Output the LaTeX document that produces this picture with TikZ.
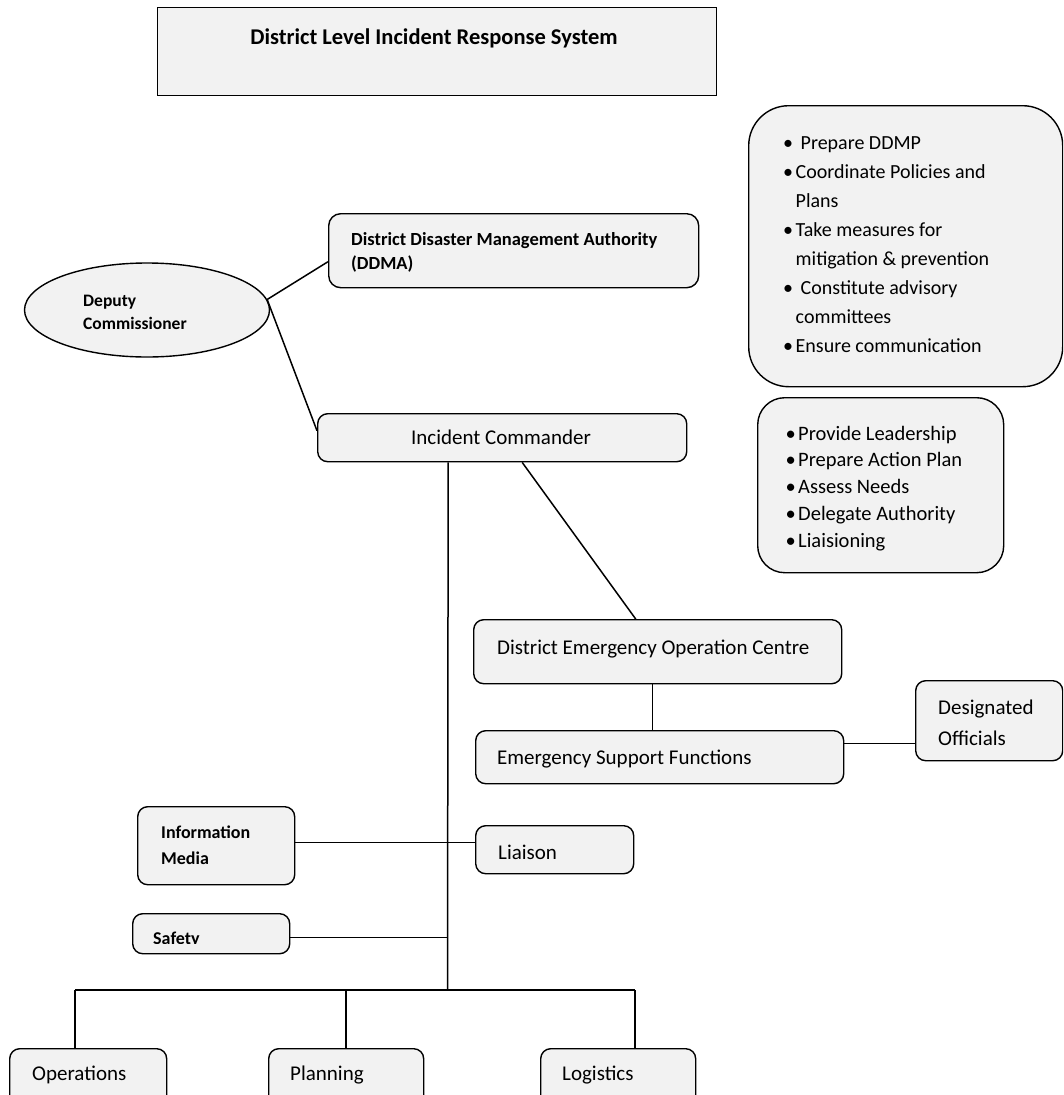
\documentclass[tikz,border=0pt]{standalone}
\usepackage{fontspec}
\setmainfont{Carlito}
\usetikzlibrary{calc,shapes.geometric}
\definecolor{boxgray}{HTML}{F2F2F2}
% bullet and hanging indent for the duty lists
\newcommand\itm{\makebox[15pt][c]{•}}
\newcommand\cont{\hspace*{15pt}}

\begin{document}
\begin{tikzpicture}[x=1pt,y=-1pt,
  card/.style={draw, fill=boxgray, line width=1.4pt, rounded corners=10pt,
    inner sep=0pt, anchor=north west},
  wire/.style={line width=1.5pt},
  lbl/.style={inner sep=0pt, anchor=base west, align=left,
    font=\fontsize{21}{31}\selectfont},
  blbl/.style={inner sep=0pt, anchor=base west, align=left,
    font=\bfseries\fontsize{17.5}{23}\selectfont},
  duty/.style={inner sep=0pt, anchor=base west, align=left},
]
\clip (0,0) rectangle (1063,1095);
\useasboundingbox (0,0) rectangle (1063,1095);

% ---- title ----
\node[draw, fill=boxgray, line width=1.4pt, inner sep=0pt, anchor=north west,
  minimum width=559pt, minimum height=88pt] (title) at (157,7) {};
\node[inner sep=0pt, anchor=base, font=\bfseries\fontsize{22.5}{28}\selectfont]
  (titletext) at (434,44) {District Level Incident Response System};

% ---- boxes ----
\node[draw, fill=boxgray, line width=1.4pt, ellipse, inner sep=0pt,
  minimum width=245pt, minimum height=94pt] (dc) at (147,310) {};
\node[card, minimum width=370pt, minimum height=74pt, rounded corners=12pt] (ddma) at (328,213) {};
\node[card, minimum width=369pt, minimum height=48pt] (ic) at (317,413) {};
\node[card, minimum width=314pt, minimum height=281pt, rounded corners=40pt] (duties1) at (748,105) {};
\node[card, minimum width=246pt, minimum height=175pt, rounded corners=27pt] (duties2) at (757,397) {};
\node[card, minimum width=368pt, minimum height=64pt] (deoc) at (473,619) {};
\node[card, minimum width=368pt, minimum height=53pt] (esf) at (475,730) {};
\node[card, minimum width=147pt, minimum height=80pt] (desig) at (915,680) {};
\node[card, minimum width=157pt, minimum height=78pt] (info) at (137,806) {};
\node[card, minimum width=158pt, minimum height=48pt] (liaison) at (475,825) {};
\node[card, minimum width=157pt, minimum height=40pt] (safety) at (132,913) {};
\node[card, minimum width=157pt, minimum height=70pt] (ops) at (9,1048) {};
\node[card, minimum width=155pt, minimum height=70pt] (plan) at (268,1048) {};
\node[card, minimum width=155pt, minimum height=70pt] (logi) at (540,1048) {};

% ---- labels (multi-line labels sit on the baseline of their last line) ----
\node[blbl] (dctext) at (83,329) {Deputy\\Commissioner};
\node[blbl, font=\bfseries\fontsize{18.5}{24}\selectfont] (ddmatext) at (351,269)
  {District Disaster Management Authority\\(DDMA)};
\node[lbl, anchor=base] (ictext) at (501,444) {Incident Commander};
\node[lbl] (deoctext) at (497,654) {District Emergency Operation Centre};
\node[lbl] (esftext) at (497,764) {Emergency Support Functions};
\node[lbl] (desigtext) at (938,745) {Designated\\Officials};
\node[blbl, font=\bfseries\fontsize{18}{26}\selectfont] (infotext) at (161,864) {Information\\Media};
\node[lbl] (liaisontext) at (498,859) {Liaison};
\begin{scope}
  \clip (132,913) rectangle (289,943);
  \node[blbl, font=\bfseries\fontsize{18}{26}\selectfont] (safetytext) at (153,944) {Safety};
\end{scope}
\node[lbl] (opstext) at (32,1080) {Operations};
\node[lbl] (plantext) at (290,1080) {Planning};
\node[lbl] (logitext) at (562,1080) {Logistics};

\node[duty, font=\fontsize{20}{28.9}\selectfont] (list1) at (780.5,352) {%
  \itm\hspace{5pt}Prepare DDMP\\
  \itm Coordinate Policies and\\
  \cont Plans\\
  \itm Take measures for\\
  \cont mitigation \& prevention\\
  \itm\hspace{5pt}Constitute advisory\\
  \cont committees\\
  \itm Ensure communication};
\node[duty, font=\fontsize{20.5}{26.75}\selectfont] (list2) at (783,547) {%
  \itm Provide Leadership\\
  \itm Prepare Action Plan\\
  \itm Assess Needs\\
  \itm Delegate Authority\\
  \itm Liaisioning};

% ---- connectors ----
\draw[wire] (dc.5) -- ($(ddma.west)+(0,11)$);
\draw[wire] (dc.5) -- ($(ic.west)+(0,-7)$);
\draw[wire] ($(ic.south)+(20,0)$) -- ($(deoc.north)+(-22,0)$);
\coordinate (hub) at (447.5,990);
\draw[wire] ($(ic.south)+(-54,0)$) -- (hub);
\draw[wire] ($(deoc.south)+(-5,0)$) -- ($(esf.north)+(-7,0)$);
\draw[wire] ($(esf.east)+(0,-13.5)$) coordinate (e1) -- (e1 -| desig.west);
\draw[wire] ($(info.east)+(0,-3)$) coordinate (i1) -- (i1 -| liaison.west);
\draw[wire] ($(safety.east)+(0,4)$) coordinate (s1) -- (s1 -| hub);
\coordinate (barL) at (75,990);
\coordinate (barR) at (635,990);
\draw[wire] (barL) -- (barR);
\draw[wire] (barL) -- (barL |- ops.north);
\draw[wire] (plan.north |- barL) -- (plan.north);
\draw[wire] (barR) -- (barR |- logi.north);
\end{tikzpicture}
\end{document}
